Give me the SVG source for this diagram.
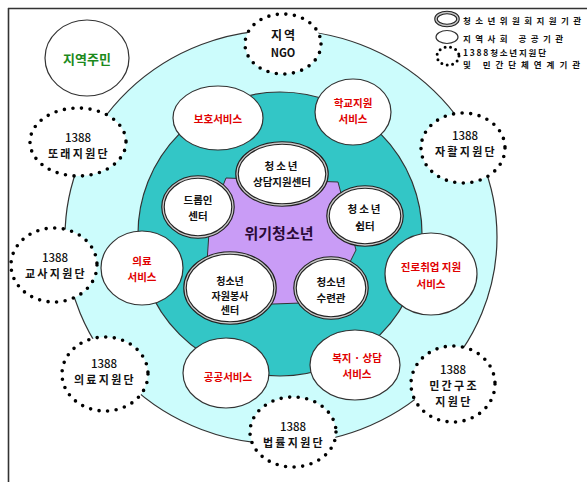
<svg xmlns="http://www.w3.org/2000/svg" width="587" height="482" viewBox="0 0 587 482">
<style>
text{font-family:"Noto Sans CJK KR","Noto Sans",sans-serif;text-anchor:middle;dominant-baseline:central;font-weight:bold}
.dbo{fill:#fff;stroke:#222;stroke-width:3.6}
.dbi{fill:none;stroke:#c8c8c8;stroke-width:1.3}
.sgl{fill:#fff;stroke:#333;stroke-width:1.2}
.dot{fill:#fff;stroke:#000;stroke-width:3.6;stroke-linecap:round;stroke-dasharray:0 8.6}
.red{fill:#e00000;font-size:10.5px}
.blk{fill:#111;font-size:10.5px}
.num{fill:#111;font-size:11.5px;font-weight:500}
.org{fill:#111;font-size:11px;letter-spacing:2.3px}
.lg{fill:#111;font-size:8.5px;text-anchor:start}
</style>
<rect width="587" height="482" fill="#fff"/>
<g id="frame" stroke="#333" stroke-width="1.6">
<line x1="8" y1="8.5" x2="587" y2="8.5"/>
<line x1="8.5" y1="8" x2="8.5" y2="482"/>
</g>
<g id="rings">
<ellipse cx="281" cy="237" rx="216" ry="207" fill="#ccfcfc" stroke="#333" stroke-width="1.2"/>
<circle cx="280" cy="234" r="142" fill="#33c6c6" stroke="#333" stroke-width="1.2"/>
<polygon points="226,178 338,182 356,250 330,302 245,305 207,262 210,218" fill="#c99cf6" stroke="#333" stroke-width="1"/>
</g>
<g id="connectors"/>
<g id="n-center"><text x="279" y="232" style="font-size:15px;fill:#2a0a36">위기청소년</text></g>
<g id="n-sangdam"><ellipse class="dbo" cx="282" cy="174" rx="45" ry="31"/><ellipse class="dbi" cx="282" cy="174" rx="45" ry="31"/>
<text class="blk" x="282" y="165" letter-spacing="2">청소년</text><text class="blk" x="282" y="181">상담지원센터</text></g>
<g id="n-dropin"><ellipse class="dbo" cx="198" cy="207" rx="35" ry="30"/><ellipse class="dbi" cx="198" cy="207" rx="35" ry="30"/>
<text class="blk" x="198" y="199">드롭인</text><text class="blk" x="198" y="215">센터</text></g>
<g id="n-shelter"><ellipse class="dbo" cx="365" cy="216" rx="37" ry="29"/><ellipse class="dbi" cx="365" cy="216" rx="37" ry="29"/>
<text class="blk" x="365" y="208" letter-spacing="2">청소년</text><text class="blk" x="365" y="225">쉼터</text></g>
<g id="n-volunteer"><ellipse class="dbo" cx="230" cy="288" rx="45" ry="35"/><ellipse class="dbi" cx="230" cy="288" rx="45" ry="35"/>
<text class="blk" x="230" y="280.5" style="font-size:10px">청소년</text><text class="blk" x="230" y="295" style="font-size:10px">자원봉사</text><text class="blk" x="230" y="309.5" style="font-size:10px">센터</text></g>
<g id="n-training"><ellipse class="dbo" cx="331" cy="288" rx="36" ry="30"/><ellipse class="dbi" cx="331" cy="288" rx="36" ry="30"/>
<text class="blk" x="331" y="281">청소년</text><text class="blk" x="331" y="297">수련관</text></g>
<g id="n-protect"><ellipse class="sgl" cx="218" cy="118" rx="45" ry="32"/><text class="red" x="218" y="118">보호서비스</text></g>
<g id="n-school"><ellipse class="sgl" cx="353" cy="112" rx="38" ry="33"/><text class="red" x="353" y="102">학교지원</text><text class="red" x="353" y="118">서비스</text></g>
<g id="n-medical"><ellipse class="sgl" cx="142" cy="268" rx="41" ry="37"/><text class="red" x="142" y="260">의료</text><text class="red" x="142" y="276">서비스</text></g>
<g id="n-career"><ellipse class="sgl" cx="431" cy="274" rx="46" ry="41"/><text class="red" x="431" y="266">진로취업 지원</text><text class="red" x="431" y="283">서비스</text></g>
<g id="n-public"><ellipse class="sgl" cx="226" cy="373" rx="43" ry="35"/><text class="red" x="228" y="376">공공서비스</text></g>
<g id="n-welfare"><ellipse class="sgl" cx="355" cy="365" rx="45" ry="35"/><text class="red" x="357" y="357">복지 · 상담</text><text class="red" x="357" y="373">서비스</text></g>
<g id="n-residents"><ellipse class="sgl" cx="87" cy="58" rx="42" ry="38"/><text x="87" y="58" style="font-size:13px;fill:#1c8a1c">지역주민</text></g>
<g id="n-ngo"><ellipse class="dot" cx="283" cy="44" rx="38" ry="30"/><text x="284" y="34" style="font-size:12px;fill:#111;letter-spacing:2px">지역</text><text x="283" y="52" style="font-size:11px;fill:#111">NGO</text></g>
<g id="n-peer"><ellipse class="dot" cx="78" cy="142" rx="48" ry="34"/><text class="num" x="78" y="137">1388</text><text class="org" x="79" y="153">또래지원단</text></g>
<g id="n-selfsupport"><ellipse class="dot" cx="463" cy="148" rx="42" ry="35"/><text class="num" x="465" y="135">1388</text><text class="org" x="466" y="151">자활지원단</text></g>
<g id="n-teacher"><ellipse class="dot" cx="54" cy="265" rx="43" ry="37"/><text class="num" x="55" y="257">1388</text><text class="org" x="56" y="273">교사지원단</text></g>
<g id="n-medsupport"><ellipse class="dot" cx="105" cy="374" rx="43" ry="37"/><text class="num" x="104" y="363">1388</text><text class="org" x="105" y="379">의료지원단</text></g>
<g id="n-rescue"><ellipse class="dot" cx="453" cy="384" rx="42" ry="38"/><text class="num" x="453" y="369">1388</text><text class="org" x="454" y="385">민간구조</text><text class="org" x="454" y="401">지원단</text></g>
<g id="n-legal"><ellipse class="dot" cx="293" cy="432" rx="43" ry="35"/><text class="num" x="293" y="426">1388</text><text class="org" x="294" y="442">법률지원단</text></g>
<g id="legend">
<ellipse class="dbo" cx="447" cy="19" rx="11" ry="6.5"/><ellipse class="dbi" cx="447" cy="19" rx="11" ry="6.5"/>
<text class="lg" x="463" y="20" textLength="118" lengthAdjust="spacing">청소년위원회지원기관</text>
<ellipse class="sgl" cx="447" cy="37" rx="11" ry="6.5"/>
<text class="lg" x="463" y="38" textLength="100" lengthAdjust="spacing">지역사회 공공기관</text>
<ellipse cx="448" cy="56" rx="11" ry="9" fill="none" stroke="#000" stroke-width="3" stroke-linecap="round" stroke-dasharray="0 5.5"/>
<text class="lg" x="463" y="52" textLength="83" lengthAdjust="spacing">1388청소년지원단</text>
<text class="lg" x="463" y="64" textLength="117" lengthAdjust="spacing">및 민간단체연계기관</text>
</g>
</svg>
